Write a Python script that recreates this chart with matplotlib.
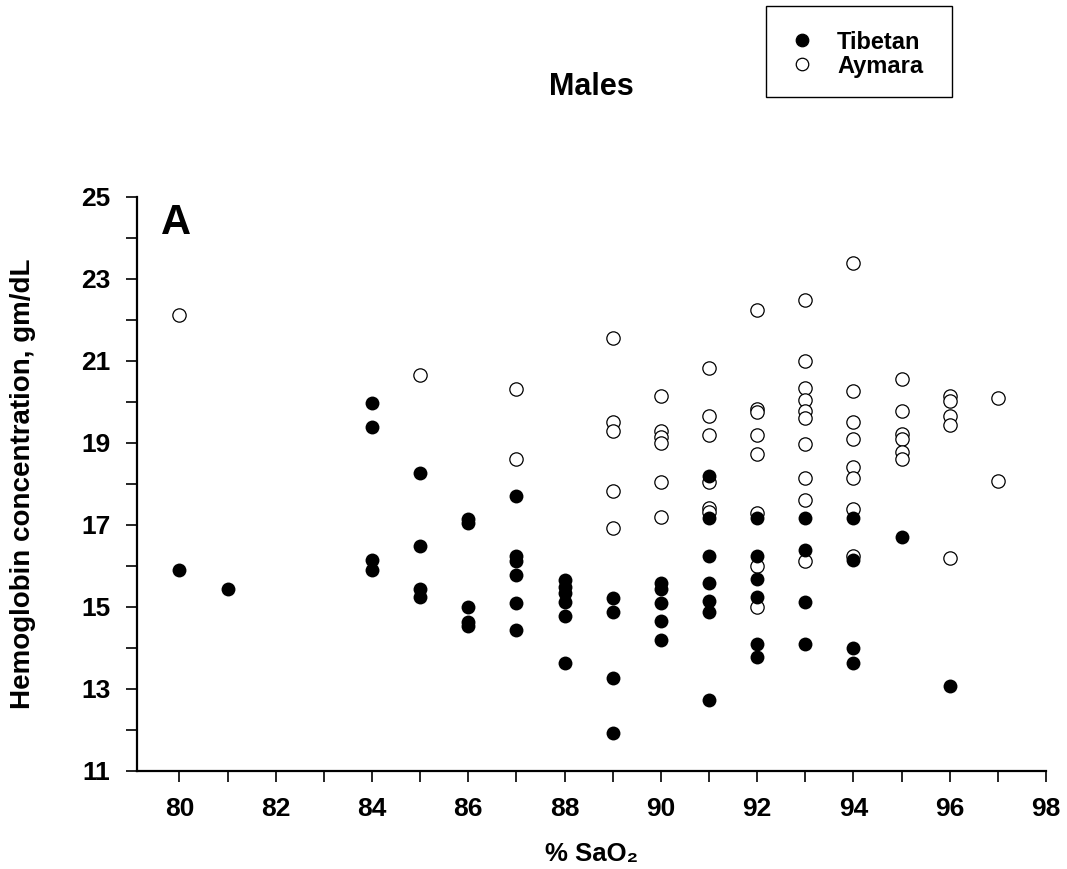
import numpy as np
import matplotlib
matplotlib.use("Agg")
import matplotlib.pyplot as plt
from matplotlib.patches import Rectangle
from matplotlib.lines import Line2D
from matplotlib.ticker import MultipleLocator

# Males, hemoglobin vs arterial O2 saturation
tib_sao2 = [80, 81,
            84, 84, 84, 84,
            85, 85, 85, 85,
            86, 86, 86, 86, 86,
            87, 87, 87, 87, 87, 87,
            88, 88, 88, 88, 88, 88,
            89, 89, 89, 89,
            90, 90, 90, 90, 90,
            91, 91, 91, 91, 91, 91, 91,
            92, 92, 92, 92, 92, 92,
            93, 93, 93, 93,
            94, 94, 94, 94,
            95, 96]
tib_hb = [15.90, 15.43,
          19.98, 19.40, 16.15, 15.90,
          18.27, 16.48, 15.45, 15.24,
          17.14, 17.04, 14.99, 14.64, 14.54,
          17.71, 16.24, 16.13, 15.78, 15.10, 14.43,
          15.66, 15.50, 15.33, 15.12, 14.78, 13.63,
          15.22, 14.87, 13.28, 11.93,
          15.59, 15.43, 15.10, 14.65, 14.20,
          18.20, 17.16, 16.24, 15.59, 15.15, 14.89, 12.72,
          17.16, 16.24, 15.68, 15.24, 14.09, 13.77,
          17.16, 16.38, 15.12, 14.09,
          17.16, 16.15, 14.00, 13.64,
          16.71, 13.07]

aym_sao2 = [80, 85, 87, 87,
            89, 89, 89, 89, 89,
            90, 90, 90, 90, 90, 90,
            91, 91, 91, 91, 91, 91,
            92, 92, 92, 92, 92, 92, 92, 92,
            93, 93, 93, 93, 93, 93, 93, 93, 93, 93,
            94, 94, 94, 94, 94, 94, 94, 94,
            95, 95, 95, 95, 95, 95,
            96, 96, 96, 96, 96,
            97, 97]
aym_hb = [22.11, 20.66, 20.31, 18.62,
          21.57, 19.52, 19.30, 17.83, 16.92,
          20.14, 19.30, 19.15, 19.00, 18.06, 17.20,
          20.83, 19.66, 19.19, 18.04, 17.42, 17.32,
          22.25, 19.84, 19.75, 19.19, 18.74, 17.30, 15.99, 15.01,
          22.48, 21.01, 20.33, 20.05, 19.77, 19.60, 18.98, 18.14, 17.62, 16.13,
          23.39, 20.28, 19.52, 19.10, 18.42, 18.15, 17.38, 16.25,
          20.57, 19.77, 19.22, 19.09, 18.77, 18.60,
          20.14, 20.03, 19.65, 19.44, 16.20,
          20.10, 18.07]

legend_names = ["Tibetan", "Aymara"]

FONT = ["Liberation Sans", "DejaVu Sans"]
plt.rcParams["font.family"] = FONT
plt.rcParams["font.weight"] = "bold"

W, H = 1067, 869
fig = plt.figure(figsize=(W / 100, H / 100), dpi=100)
ax = fig.add_axes([137 / W, 1 - 771 / H, (1046 - 137) / W, (771 - 197) / H])

ax.scatter(aym_sao2, aym_hb, s=92, facecolors="white", edgecolors="black",
           linewidths=0.9, zorder=3)
ax.scatter(tib_sao2, tib_hb, s=100, color="black", linewidths=0, zorder=4)

ax.set_xlim(79.12, 98)
ax.set_ylim(11, 25)
ax.xaxis.set_major_locator(MultipleLocator(2))
ax.xaxis.set_minor_locator(MultipleLocator(1))
ax.yaxis.set_major_locator(MultipleLocator(2))
ax.yaxis.set_minor_locator(MultipleLocator(1))
ax.set_yticks(np.arange(11, 26, 2))

for side in ("top", "right"):
    ax.spines[side].set_visible(False)
for side in ("left", "bottom"):
    ax.spines[side].set_linewidth(1.6)
ax.tick_params(which="both", direction="out", length=8, width=1.2, color="black")
ax.tick_params(axis="x", which="major", labelsize=19, pad=11)
ax.tick_params(axis="y", which="major", labelsize=19, pad=11)
for lab in ax.get_xticklabels() + ax.get_yticklabels():
    lab.set_fontweight("bold")

ax.set_xlabel("% SaO\u2082", fontsize=18.5, fontweight="bold")
ax.xaxis.set_label_coords(0.5, -(842 - 771) / 574)
ax.set_ylabel("Hemoglobin concentration, gm/dL", fontsize=20, fontweight="bold")
ax.yaxis.set_label_coords((36 - 137) / 909, 0.5)

ax.text((161 - 137) / 909, (771 - 234) / 574, "A", transform=ax.transAxes,
        fontsize=30, fontweight="bold", va="baseline", ha="left")
fig.text(591 / W, 1 - 87 / H, "Males", fontsize=22, fontweight="bold",
         ha="center", va="center")

# legend box drawn by hand, entries inside
fig.patches.append(Rectangle((766 / W, 1 - 97 / H), 186 / W, 91 / H,
                             transform=fig.transFigure, fill=False,
                             edgecolor="black", linewidth=1.0))
for i, (name, face) in enumerate(zip(legend_names, ["black", "white"])):
    yy = 1 - (40 + 24 * i) / H
    fig.add_artist(Line2D([802 / W], [yy], transform=fig.transFigure, ls="",
                          marker="o", ms=9, mfc=face, mec="black", mew=0.9))
    fig.text(837 / W, yy, name, fontsize=17, fontweight="bold",
             ha="left", va="center_baseline")

fig.savefig("out.png", dpi=100)
